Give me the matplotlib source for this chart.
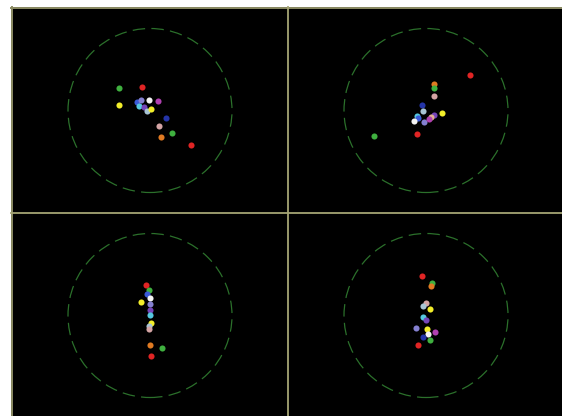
import matplotlib
matplotlib.use("Agg")
import matplotlib.pyplot as plt
from matplotlib.patches import Circle
from matplotlib.lines import Line2D

# colour keys of the points
C = {
    "green": "#3fb03f", "red": "#e02424", "yellow": "#f2ee2a", "blue": "#3a5ad8",
    "lavender": "#8480d0", "white": "#f4f4f4", "magenta": "#b040b0", "cyan": "#56c8e0",
    "purple": "#7444b8", "steel": "#a8c4d4", "darkblue": "#2434a8", "pink": "#d4a4a4",
    "orange": "#e07a22", "tan": "#e0b090",
}

# panel data: (colour key, x, y) in circle-radius units
tl_names = ["green", "red", "yellow", "blue", "lavender", "white", "magenta", "cyan",
            "purple", "steel", "yellow", "darkblue", "pink", "green", "orange", "red"]
tl_x = [-0.378, -0.101, -0.374, -0.162, -0.113, -0.016, 0.101, -0.134,
        -0.073, -0.040, 0.012, 0.195, 0.110, 0.268, 0.130, 0.500]
tl_y = [0.271, 0.287, 0.071, 0.100, 0.124, 0.124, 0.112, 0.059,
        0.046, -0.006, 0.018, -0.088, -0.185, -0.278, -0.323, -0.421]

tr_names = ["red", "orange", "green", "pink", "darkblue", "steel", "yellow", "cyan",
            "blue", "white", "lavender", "purple", "tan", "magenta", "red", "green"]
tr_x = [0.540, 0.098, 0.098, 0.098, -0.052, -0.040, 0.191, -0.113,
        -0.101, -0.150, -0.021, 0.098, 0.061, 0.040, -0.106, -0.634]
tr_y = [0.433, 0.320, 0.278, 0.177, 0.071, -0.002, -0.027, -0.063,
        -0.095, -0.124, -0.137, -0.055, -0.076, -0.107, -0.290, -0.311]

bl_names = ["red", "green", "blue", "white", "yellow", "lavender", "purple", "cyan",
            "yellow", "steel", "pink", "orange", "green", "red"]
bl_x = [-0.049, -0.012, -0.040, -0.004, -0.113, -0.004, -0.004, -0.004,
        0.016, -0.009, -0.009, -0.004, 0.143, 0.016]
bl_y = [0.376, 0.311, 0.259, 0.213, 0.161, 0.137, 0.067, 0.010,
        -0.088, -0.128, -0.165, -0.363, -0.393, -0.490]

br_names = ["red", "green", "orange", "pink", "steel", "yellow", "cyan", "purple",
            "lavender", "yellow", "white", "magenta", "darkblue", "green", "red"]
br_x = [-0.052, 0.077, 0.061, 0.000, -0.033, 0.045, -0.040, 0.000,
        -0.126, 0.012, 0.024, 0.110, -0.033, 0.049, -0.094]
br_y = [0.478, 0.396, 0.360, 0.156, 0.112, 0.083, -0.015, -0.055,
        -0.149, -0.168, -0.222, -0.201, -0.266, -0.299, -0.363]

W, H = 562, 416
fig = plt.figure(figsize=(W / 100, H / 100), dpi=100)
fig.patch.set_facecolor("white")

# black field as a background axes
bg = fig.add_axes([11 / W, 0, 1 - 11 / W, 1 - 7 / H], zorder=-10)
bg.set_facecolor("black")
bg.set_xticks([])
bg.set_yticks([])
for s in bg.spines.values():
    s.set_visible(False)

R = 82.0  # circle radius in pixels
PW, PH = 276, 205
panels = [
    (12, 8, tl_names, tl_x, tl_y),
    (288, 8, tr_names, tr_x, tr_y),
    (12, 213, bl_names, bl_x, bl_y),
    (288, 213, br_names, br_x, br_y),
]
for (px, py, names, xs, ys) in panels:
    ax = fig.add_axes([px / W, 1 - (py + PH) / H, PW / W, PH / H], zorder=1)
    ax.set_xlim(-PW / 2 / R, PW / 2 / R)
    ax.set_ylim(-PH / 2 / R, PH / 2 / R)
    ax.axis("off")
    ax.add_patch(Circle((0, 0), 1.0, fill=False, edgecolor="#2b702b",
                        linewidth=0.9, linestyle=(0, (10, 5))))
    for n, x, y in zip(names, xs, ys):
        ax.plot(x, y, marker="o", markersize=4.4, color=C[n],
                markeredgewidth=0, linestyle="none")

lines = [
    ((11.5 / W, 11.5 / W), (0, 1 - 7 / H), "#8c8c64", 1.4),
    ((11 / W, 1), (1 - 7.5 / H, 1 - 7.5 / H), "#8c8c64", 1.4),
    ((288 / W, 288 / W), (0, 1 - 7 / H), "#a4a474", 1.3),
    ((11 / W, 1), (1 - 213 / H, 1 - 213 / H), "#a4a474", 1.3),
]
for xs_, ys_, col, lw in lines:
    fig.add_artist(Line2D(xs_, ys_, transform=fig.transFigure, color=col,
                          linewidth=lw, zorder=5))

fig.savefig("out.png", dpi=100, facecolor="white")
